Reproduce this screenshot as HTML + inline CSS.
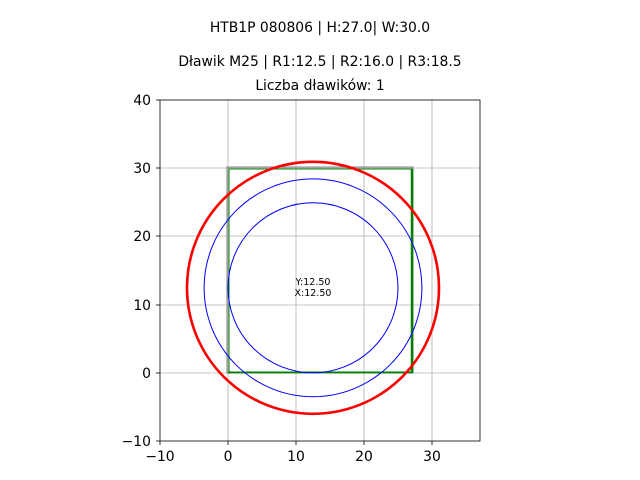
<!DOCTYPE html>
<html><head><style>body{margin:0;background:#fff}svg{display:block}</style></head><body>
<svg width="640" height="480" xmlns="http://www.w3.org/2000/svg" font-family="DejaVu Sans, Liberation Sans, sans-serif">
<rect width="640" height="480" fill="#fff"/>
<g stroke="#b0b0b0" stroke-width="0.8">
<line x1="228" y1="100" x2="228" y2="441"/><line x1="296" y1="100" x2="296" y2="441"/><line x1="364" y1="100" x2="364" y2="441"/><line x1="432" y1="100" x2="432" y2="441"/>
<line x1="160" y1="168" x2="480" y2="168"/><line x1="160" y1="236" x2="480" y2="236"/><line x1="160" y1="305" x2="480" y2="305"/><line x1="160" y1="373" x2="480" y2="373"/>
</g>
<rect x="227" y="167" width="186" height="206" fill="none" stroke="#808080" stroke-width="1"/>
<rect x="229" y="169" width="183" height="203" fill="none" stroke="green" stroke-width="1"/>
<line x1="412" y1="169" x2="412" y2="373" stroke="green" stroke-width="2.5"/>
<line x1="228" y1="372.5" x2="413" y2="372.5" stroke="green" stroke-width="1.5"/>
<circle cx="313" cy="287.8" r="85" fill="none" stroke="blue" stroke-width="1"/>
<circle cx="313" cy="287.8" r="108.9" fill="none" stroke="blue" stroke-width="1"/>
<circle cx="313" cy="287.8" r="126" fill="none" stroke="red" stroke-width="2.6"/>
<text x="313" y="285" font-size="9.5" text-anchor="middle">Y:12.50</text>
<text x="313" y="296" font-size="9.5" text-anchor="middle">X:12.50</text>
<rect x="160" y="100" width="320" height="341" fill="none" stroke="#000" stroke-width="0.8"/>
<g stroke="#000" stroke-width="0.8">
<line x1="160" y1="441" x2="160" y2="445"/><line x1="228" y1="441" x2="228" y2="445"/><line x1="296" y1="441" x2="296" y2="445"/><line x1="364" y1="441" x2="364" y2="445"/><line x1="432" y1="441" x2="432" y2="445"/>
<line x1="156" y1="100" x2="160" y2="100"/><line x1="156" y1="168" x2="160" y2="168"/><line x1="156" y1="236" x2="160" y2="236"/><line x1="156" y1="305" x2="160" y2="305"/><line x1="156" y1="373" x2="160" y2="373"/><line x1="156" y1="441" x2="160" y2="441"/>
</g>
<g font-size="13.9" text-anchor="middle">
<text x="160" y="461">−10</text><text x="228" y="461">0</text><text x="296" y="461">10</text><text x="364" y="461">20</text><text x="432" y="461">30</text>
</g>
<g font-size="13.9" text-anchor="end">
<text x="151" y="105">40</text><text x="151" y="173">30</text><text x="151" y="241">20</text><text x="151" y="310">10</text><text x="151" y="378">0</text><text x="151" y="446">−10</text>
</g>
<g font-size="13.9" text-anchor="middle">
<text x="320" y="32">HTB1P 080806 | H:27.0| W:30.0</text>
<text x="320" y="66">Dławik M25 | R1:12.5 | R2:16.0 | R3:18.5</text>
<text x="320" y="90">Liczba dławików: 1</text>
</g>
</svg>
</body></html>
